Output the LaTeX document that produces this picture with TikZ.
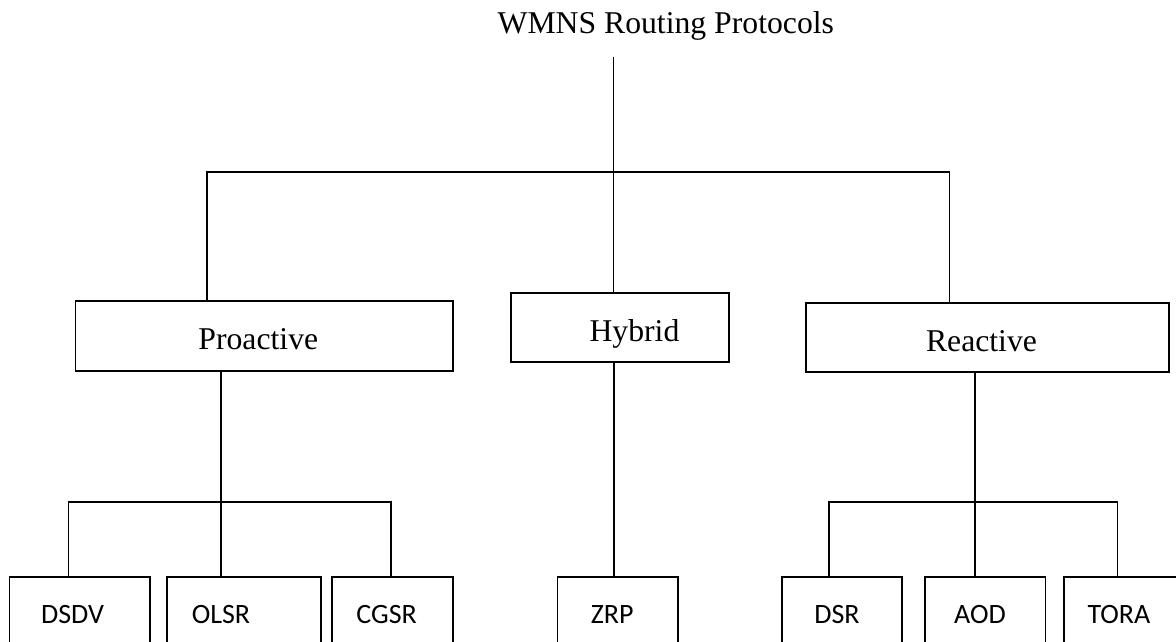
\documentclass[tikz,border=0pt]{standalone}
\usepackage{fontspec}
\setmainfont{Liberation Serif}
\newfontfamily\labelsans{Carlito}
\begin{document}
\begin{tikzpicture}[x=1pt,y=-1pt,
  box/.style={draw=black,line width=1.7pt,fill=white,rectangle,inner sep=0pt,outer sep=0pt},
  wire/.style={draw=black,line width=1.7pt},
  serifl/.style={inner sep=0pt,anchor=base,font=\fontsize{31.7}{38}\selectfont},
  sansl/.style={inner sep=0pt,anchor=base,font=\labelsans\fontsize{28}{34}\selectfont},
  bottombox/.style={box,minimum height=87.7pt}]
\useasboundingbox (0,0) rectangle (1176,641);
\clip (0,0) rectangle (1176,641);

% title and its stem
\node[serifl] (title) at (665.8,33.3) {WMNS Routing Protocols};
\coordinate (top) at (613.4,56.7);

% second level
\node[box,minimum width=377.3pt,minimum height=70pt] (pro) at (264.05,335.7) {};
\node[box,minimum width=218.1pt,minimum height=68.4pt] (hyb) at (619.95,327.5) {};
\node[box,minimum width=363.3pt,minimum height=69.6pt] (rea) at (987.45,337.5) {};
\node[serifl] (proT) at (258.3,349.3) {Proactive};
\node[serifl] (hybT) at (634.5,341.0) {Hybrid};
\node[serifl] (reaT) at (981.5,351.0) {Reactive};

% third level
\node[bottombox,minimum width=140.4pt] (dsdv) at (79.8,621.15) {};
\node[bottombox,minimum width=154.2pt] (olsr) at (244.0,621.15) {};
\node[bottombox,minimum width=120.5pt] (cgsr) at (392.45,621.15) {};
\node[bottombox,minimum width=120.1pt] (zrp) at (617.65,621.15) {};
\node[bottombox,minimum width=120.5pt] (dsr) at (842.05,621.15) {};
\node[bottombox,minimum width=120.5pt] (aod) at (985.35,621.15) {};
\node[bottombox,minimum width=126.2pt] (tora) at (1126.9,621.15) {};
\node[sansl] (dsdvT) at (72.5,623.3) {DSDV};
\node[sansl] (olsrT) at (221.0,623.3) {OLSR};
\node[sansl] (cgsrT) at (386.7,623.3) {CGSR};
\node[sansl] (zrpT) at (612.2,623.3) {ZRP};
\node[sansl] (dsrT) at (837.0,623.3) {DSR};
\node[sansl] (aodT) at (980.0,623.3) {AOD};
\node[sansl] (toraT) at (1118.9,623.3) {TORA};

% branch points
\coordinate (busL) at (207.0,172.3);
\coordinate (busR) at (949.4,172.3);
\coordinate (pbusL) at (68.5,501.7);
\coordinate (pbusR) at (390.7,501.7);
\coordinate (rbusL) at (829.3,501.7);
\coordinate (rbusR) at (1117.4,501.7);

% root connectors
\draw[wire] (top) -- (top |- hyb.north);
\draw[wire] (busL |- pro.north) -- (busL) -- (busR) -- (busR |- rea.north);

% proactive connectors
\draw[wire] (220.8,370.7) -- (220.8,577.3);
\draw[wire] (pbusL |- dsdv.north) -- (pbusL) -- (pbusR) -- (pbusR |- cgsr.north);

% hybrid connector
\draw[wire] (613.8,361.7) -- (613.8,577.3);

% reactive connectors
\draw[wire] (975.3,372.3) -- (975.3,577.3);
\draw[wire] (rbusL |- dsr.north) -- (rbusL) -- (rbusR) -- (rbusR |- tora.north);
\end{tikzpicture}
\end{document}
